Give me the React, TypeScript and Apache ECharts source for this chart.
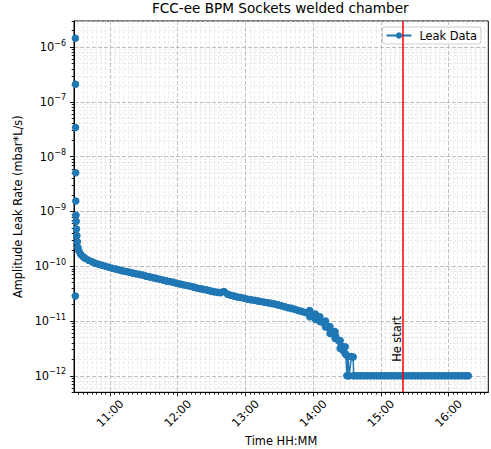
import React, { useEffect, useRef } from 'react';
import * as echarts from 'echarts';

const FONT = 'DejaVu Sans';

const chartTitle = 'FCC-ee BPM Sockets welded chamber';
const seriesName = 'Leak Data';
const xAxisName = 'Time HH:MM';
const yAxisName = 'Amplitude Leak Rate (mbar*L/s)';
const heStartLabel = 'He start';

// time of each sample, minutes after midnight
const timeMinutes: number[] = [
  629.3, 629.3, 629.4, 629.5, 629.6, 629.7, 629.8, 630.0, 630.3, 630.6,
  631.0, 631.6, 632.5, 634, 636, 638,
  641, 644, 647, 650, 653, 656, 659, 662, 665, 668,
  671, 674, 677, 680, 683, 686, 689, 692, 695, 698,
  701, 704, 707, 710, 713, 716, 719, 722, 725, 728,
  731, 734, 737, 740, 743, 746, 749, 752, 755, 758,
  761, 764, 767, 770, 773, 776, 779, 782, 785, 788,
  791, 794, 797, 800, 803, 806, 809, 812, 815, 818,
  821, 824, 827, 830, 833, 836, 839, 842, 845, 848,
  851, 854, 857, 860, 863,
  865, 867, 869, 870, 871, 872, 874, 875.5,
  876, 879, 882, 885, 888, 891, 894, 897, 900, 903,
  906, 909, 912, 915, 918, 921, 924, 927, 930, 933,
  936, 939, 942, 945, 948, 951, 954, 957, 960, 963,
  966, 969, 972, 975, 977.5,
];

// leak rate of each sample, mbar*L/s
const leakRate: number[] = [
  2.85e-11, 1.45e-6, 2.1e-7, 3.4e-8, 5.1e-9, 1.55e-9, 8.5e-10, 6.6e-10, 4.8e-10, 3.6e-10,
  2.8e-10, 2.2e-10, 1.88e-10, 1.66e-10, 1.5e-10, 1.4e-10,
  1.29e-10, 1.21e-10, 1.13e-10, 1.09e-10, 1.04e-10, 1.0e-10, 9.6e-11, 9.2e-11, 8.9e-11, 8.6e-11,
  8.3e-11, 8.0e-11, 7.8e-11, 7.5e-11, 7.3e-11, 7.1e-11, 6.9e-11, 6.6e-11, 6.4e-11, 6.2e-11,
  6.0e-11, 5.8e-11, 5.6e-11, 5.4e-11, 5.25e-11, 5.1e-11, 4.9e-11, 4.75e-11, 4.6e-11, 4.45e-11,
  4.3e-11, 4.16e-11, 4.0e-11, 3.9e-11, 3.78e-11, 3.67e-11, 3.55e-11, 3.44e-11, 3.34e-11, 3.3e-11,
  3.45e-11, 3.1e-11, 2.95e-11, 2.85e-11, 2.75e-11, 2.68e-11, 2.6e-11, 2.5e-11, 2.45e-11, 2.4e-11,
  2.33e-11, 2.27e-11, 2.2e-11, 2.16e-11, 2.1e-11, 2.04e-11, 1.97e-11, 1.9e-11, 1.82e-11, 1.75e-11,
  1.7e-11, 1.63e-11, 1.55e-11, 1.5e-11, 1.43e-11, 1.43e-11, 1.28e-11, 1.18e-11, 1.07e-11, 9.6e-12,
  8.5e-12, 7.5e-12, 6.3e-12, 5.3e-12, 4.3e-12,
  3.5e-12, 2.85e-12, 2.45e-12, 1e-12, 2.25e-12, 1e-12, 2.25e-12, 2.2e-12,
  1e-12, 1e-12, 1e-12, 1e-12, 1e-12, 1e-12, 1e-12, 1e-12, 1e-12, 1e-12,
  1e-12, 1e-12, 1e-12, 1e-12, 1e-12, 1e-12, 1e-12, 1e-12, 1e-12, 1e-12,
  1e-12, 1e-12, 1e-12, 1e-12, 1e-12, 1e-12, 1e-12, 1e-12, 1e-12, 1e-12,
  1e-12, 1e-12, 1e-12, 1e-12, 1e-12,
];

// noisy readings at the upper / lower edge of the band before the drop
const tailTimes: number[] = [837, 842, 846, 851, 855, 859.5, 864, 868.5];
const tailUpperRates: number[] = [1.55e-11, 1.34e-11, 1.2e-11, 1.0e-11, 7.9e-12, 6.4e-12, 4.4e-12, 3.4e-12];
const tailLowerRates: number[] = [1.2e-11, 1.08e-11, 9.8e-12, 7.8e-12, 5.9e-12, 4.8e-12, 3.15e-12, 2.55e-12];

// the first few start-up readings are isolated (not joined by the line)
const isolatedCount = 6;

const majorHourTicks: number[] = [660, 720, 780, 840, 900, 960];
const decadeTicks: number[] = [1e-12, 1e-11, 1e-10, 1e-9, 1e-8, 1e-7, 1e-6];
const heStartMinute = 919.3;
const heLabelBottomValue = 1.8e-12;

const xMin = 628.1;
const xMax = 995.3;
const yMin = 5e-13;
const yMax = 3e-6;

// minor tick positions (axis structure)
const minorMinuteTicks: number[] = [];
for (let m = 632; m <= xMax; m += 4) {
  if (m % 60 !== 0) minorMinuteTicks.push(m);
}
const minorLogTicks: number[] = [];
for (let e = -13; e <= -6; e++) {
  for (let k = 2; k <= 9; k++) {
    const v = k * Math.pow(10, e);
    if (v >= yMin && v <= yMax) minorLogTicks.push(v);
  }
}

const fmtPow = (v: number) => {
  const e = Math.round(Math.log10(v));
  return '{b|10}{e|' + String(e).replace('-', '\u2212') + '}';
};
const fmtTime = (v: number) => {
  const h = Math.floor(v / 60);
  const m = Math.round(v - h * 60);
  return `${h}:${String(m).padStart(2, '0')}`;
};

const majorSplit = { show: true, lineStyle: { color: '#b0b0b0', type: [4, 2] as any, width: 0.8 } };
const minorSplit = { show: true, lineStyle: { color: '#dedede', type: [3, 2] as any, width: 0.6 } };
const tickLine = { color: '#000', width: 0.9 };
const BLUE = '#1f77b4';

export default function App() {
  const ref = useRef<HTMLDivElement>(null);
  useEffect(() => {
    document.body.style.margin = '0';
    if (!ref.current) return;
    const chart = echarts.init(ref.current, undefined, { renderer: 'svg' });
    const data = timeMinutes.map((t, i) => [t, leakRate[i]]);
    const tailData = [
      ...tailTimes.map((t, i) => [t, tailUpperRates[i]]),
      ...tailTimes.map((t, i) => [t, tailLowerRates[i]]),
    ];
    chart.setOption({
      animation: false,
      backgroundColor: '#ffffff',
      textStyle: { fontFamily: FONT },
      title: {
        text: chartTitle,
        left: 152,
        top: 1,
        padding: 0,
        textStyle: { fontFamily: FONT, fontSize: 13.6, fontWeight: 'normal', color: '#000' },
      },
      legend: {
        show: true,
        right: 10,
        top: 27,
        padding: [3, 4, 3, 3],
        itemWidth: 25,
        itemHeight: 8,
        backgroundColor: 'rgba(255,255,255,0.8)',
        borderColor: '#cccccc',
        borderWidth: 1,
        borderRadius: 3,
        selectedMode: false,
        textStyle: { fontFamily: FONT, fontSize: 11.4, color: '#000', padding: [0, 0, 0, 3] },
        data: [seriesName],
      },
      grid: {
        left: 74,
        top: 21,
        width: 414.3,
        height: 371.3,
        show: true,
        borderColor: '#000',
        borderWidth: 1,
        backgroundColor: 'transparent',
        outerBoundsMode: 'none',
        containLabel: false,
      },
      xAxis: [
        {
          type: 'value',
          min: xMin,
          max: xMax,
          position: 'bottom',
          z: 2,
          axisLine: { show: true, lineStyle: { color: '#000', width: 1 } },
          axisTick: { show: true, length: 4, lineStyle: tickLine, customValues: majorHourTicks },
          axisLabel: {
            customValues: majorHourTicks,
            formatter: fmtTime,
            rotate: 45,
            align: 'center',
            verticalAlign: 'middle',
            margin: 21,
            fontFamily: FONT,
            fontSize: 11.4,
            color: '#000',
          },
          splitLine: majorSplit,
          name: xAxisName,
          nameLocation: 'middle',
          nameGap: 40,
          nameTextStyle: { fontFamily: FONT, fontSize: 11.4, color: '#000' },
        },
        {
          type: 'value',
          min: xMin,
          max: xMax,
          position: 'bottom',
          z: 1,
          axisLine: { show: false },
          axisTick: { show: true, length: 2.3, lineStyle: tickLine, customValues: minorMinuteTicks },
          axisLabel: { show: false, customValues: minorMinuteTicks },
          splitLine: minorSplit,
        },
      ],
      yAxis: [
        {
          type: 'log',
          logBase: 10,
          min: yMin,
          max: yMax,
          position: 'left',
          z: 2,
          axisLine: { show: true, lineStyle: { color: '#000', width: 1 } },
          axisTick: { show: true, length: 4, lineStyle: tickLine, customValues: decadeTicks },
          axisLabel: {
            customValues: decadeTicks,
            formatter: fmtPow,
            margin: 8,
            fontFamily: FONT,
            color: '#000',
            rich: {
              b: { fontFamily: FONT, fontSize: 11.4, color: '#000', lineHeight: 14 },
              e: { fontFamily: FONT, fontSize: 8, color: '#000', lineHeight: 16, verticalAlign: 'top' },
            },
          },
          splitLine: majorSplit,
          name: yAxisName,
          nameLocation: 'middle',
          nameGap: 46,
          nameTextStyle: { fontFamily: FONT, fontSize: 11.4, color: '#000' },
        },
        {
          type: 'log',
          logBase: 10,
          min: yMin,
          max: yMax,
          position: 'left',
          z: 1,
          axisLine: { show: false },
          axisTick: { show: true, length: 2.3, lineStyle: tickLine, customValues: minorLogTicks },
          axisLabel: { show: false, customValues: minorLogTicks },
          splitLine: minorSplit,
        },
      ],
      series: [
        {
          type: 'line',
          name: seriesName,
          xAxisIndex: 0,
          yAxisIndex: 0,
          data: data.slice(isolatedCount),
          symbol: 'circle',
          symbolSize: 7,
          showSymbol: true,
          lineStyle: { color: BLUE, width: 1.5 },
          itemStyle: { color: BLUE, borderWidth: 0 },
          emphasis: { disabled: true },
          z: 3,
          markLine: {
            silent: true,
            symbol: ['none', 'none'],
            label: { show: false },
            lineStyle: { color: '#ff0000', width: 1.5, type: 'solid' },
            data: [{ xAxis: heStartMinute }],
            z: 5,
          },
        },
        {
          type: 'scatter',
          name: 'samples',
          xAxisIndex: 0,
          yAxisIndex: 0,
          data: [...data, ...tailData],
          symbol: 'circle',
          symbolSize: 7.5,
          itemStyle: { color: BLUE, borderWidth: 0, opacity: 1 },
          emphasis: { disabled: true },
          silent: true,
          z: 4,
        },
      ],
    });
    const p = chart.convertToPixel({ xAxisIndex: 0, yAxisIndex: 0 }, [heStartMinute, heLabelBottomValue]) as number[];
    if (p && isFinite(p[0]) && isFinite(p[1])) {
      chart.setOption({
        graphic: [
          {
            type: 'text',
            x: p[0] - 6,
            y: p[1],
            rotation: Math.PI / 2,
            z: 10,
            style: {
              text: heStartLabel,
              fontFamily: FONT,
              fontSize: 11.4,
              fill: '#000',
              align: 'left',
              verticalAlign: 'middle',
            },
          },
        ],
      });
    }
    return () => chart.dispose();
  }, []);
  return <div ref={ref} style={{ width: 491, height: 449 }} />;
}
